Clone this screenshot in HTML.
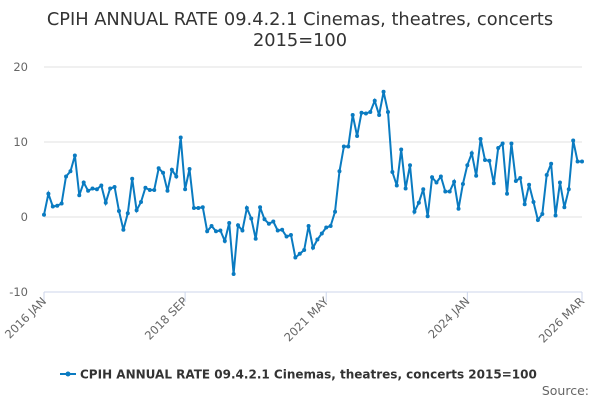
<!DOCTYPE html>
<html><head><meta charset="utf-8"><style>
body{margin:0;background:#fff;font-family:"DejaVu Sans",sans-serif;}
svg text{font-family:"DejaVu Sans",sans-serif;}
</style></head><body>
<svg width="600" height="400" id="c">
<text x="300" y="25" text-anchor="middle" font-size="17.8" fill="#333">CPIH ANNUAL RATE 09.4.2.1 Cinemas, theatres, concerts</text>
<text x="300" y="46" text-anchor="middle" font-size="17.8" fill="#333">2015=100</text>
<g id="grid"></g><g id="xt"></g>
<path id="line" fill="none" stroke="#0a7bc1" stroke-width="2"/>
<g id="pts"></g>
<g>
<line x1="60" y1="374" x2="76" y2="374" stroke="#0a7bc1" stroke-width="2"/>
<circle cx="68" cy="374" r="2.5" fill="#0a7bc1"/>
<text x="80" y="378.5" font-size="12" font-weight="bold" fill="#333">CPIH ANNUAL RATE 09.4.2.1 Cinemas, theatres, concerts 2015=100</text>
</g>
<text x="589" y="395" text-anchor="end" font-size="12.5" fill="#666">Source:</text>
</svg>
<script>
const values=[0.3,3.1,1.4,1.5,1.8,5.4,6.1,8.2,2.9,4.6,3.5,3.8,
3.7,4.2,1.9,3.8,4.0,0.8,-1.7,0.5,5.1,0.9,2.0,3.9,
3.6,3.6,6.5,5.9,3.5,6.3,5.4,10.6,3.7,6.4,1.2,1.2,
1.3,-1.9,-1.2,-1.9,-1.8,-3.2,-0.8,-7.6,-1.1,-1.8,1.2,-0.2,
-2.9,1.3,-0.3,-0.9,-0.6,-1.8,-1.7,-2.6,-2.4,-5.4,-4.9,-4.4,
-1.2,-4.1,-3.0,-2.2,-1.4,-1.2,0.7,6.1,9.4,9.4,13.6,10.8,
13.9,13.8,14.0,15.5,13.6,16.7,14.0,6.0,4.2,9.0,3.8,6.9,
0.7,1.9,3.7,0.1,5.3,4.6,5.4,3.4,3.4,4.7,1.1,4.4,
6.9,8.5,5.5,10.4,7.6,7.5,4.5,9.2,9.8,3.1,9.8,4.8,
5.2,1.7,4.3,2.0,-0.4,0.4,5.6,7.1,0.2,4.6,1.3,3.7,
10.2,7.4,7.4];
const yTicks=[-10,0,10,20];
const xTickIdx=[0,32,64,96,122];
const xTickLabels=["2016 JAN","2018 SEP","2021 MAY","2024 JAN","2026 MAR"];
const NS="http://www.w3.org/2000/svg";
const x0=44,x1=582,y0=217,ppu=7.5;
const X=i=>x0+i*(x1-x0)/(values.length-1);
const Y=v=>y0-v*ppu;
const g=document.getElementById('grid'),xt=document.getElementById('xt'),pts=document.getElementById('pts');
yTicks.forEach(t=>{
const l=document.createElementNS(NS,'line');


l.setAttribute('x1',x0);l.setAttribute('x2',x1);l.setAttribute('y1',Y(t));l.setAttribute('y2',Y(t));
l.setAttribute('stroke','#e0e0e0');g.appendChild(l);
const tx=document.createElementNS(NS,'text');


tx.setAttribute('x',28);tx.setAttribute('y',Y(t)+4);tx.setAttribute('text-anchor','end');
tx.setAttribute('font-size','11.5');tx.setAttribute('fill','#666');tx.textContent=t;g.appendChild(tx);
});
const ax=document.createElementNS(NS,'line');


ax.setAttribute('x1',x0);ax.setAttribute('x2',x1);ax.setAttribute('y1',292);ax.setAttribute('y2',292);ax.setAttribute('stroke','#ccd6eb');g.appendChild(ax);
xTickIdx.forEach((ix,k)=>{
const x=X(ix);
const tk=document.createElementNS(NS,'line');


tk.setAttribute('x1',x);tk.setAttribute('x2',x);tk.setAttribute('y1',292);tk.setAttribute('y2',302);tk.setAttribute('stroke','#ccd6eb');xt.appendChild(tk);
const tx=document.createElementNS(NS,'text');


tx.setAttribute('x',x+3);tx.setAttribute('y',302);tx.setAttribute('text-anchor','end');
tx.setAttribute('font-size','11.5');tx.setAttribute('fill','#666');
tx.setAttribute('transform','rotate(-45 '+(x+3)+' 302)');tx.textContent=xTickLabels[k];xt.appendChild(tx);
});
let d='';
values.forEach((v,i)=>{
d+=(i?'L':'M')+X(i).toFixed(1)+' '+Y(v).toFixed(1);
const c=document.createElementNS(NS,'circle');


c.setAttribute('cx',X(i));c.setAttribute('cy',Y(v));c.setAttribute('r',2);c.setAttribute('fill','#0a7bc1');pts.appendChild(c);
});
document.getElementById('line').setAttribute('d',d);
</script>
</body></html>
